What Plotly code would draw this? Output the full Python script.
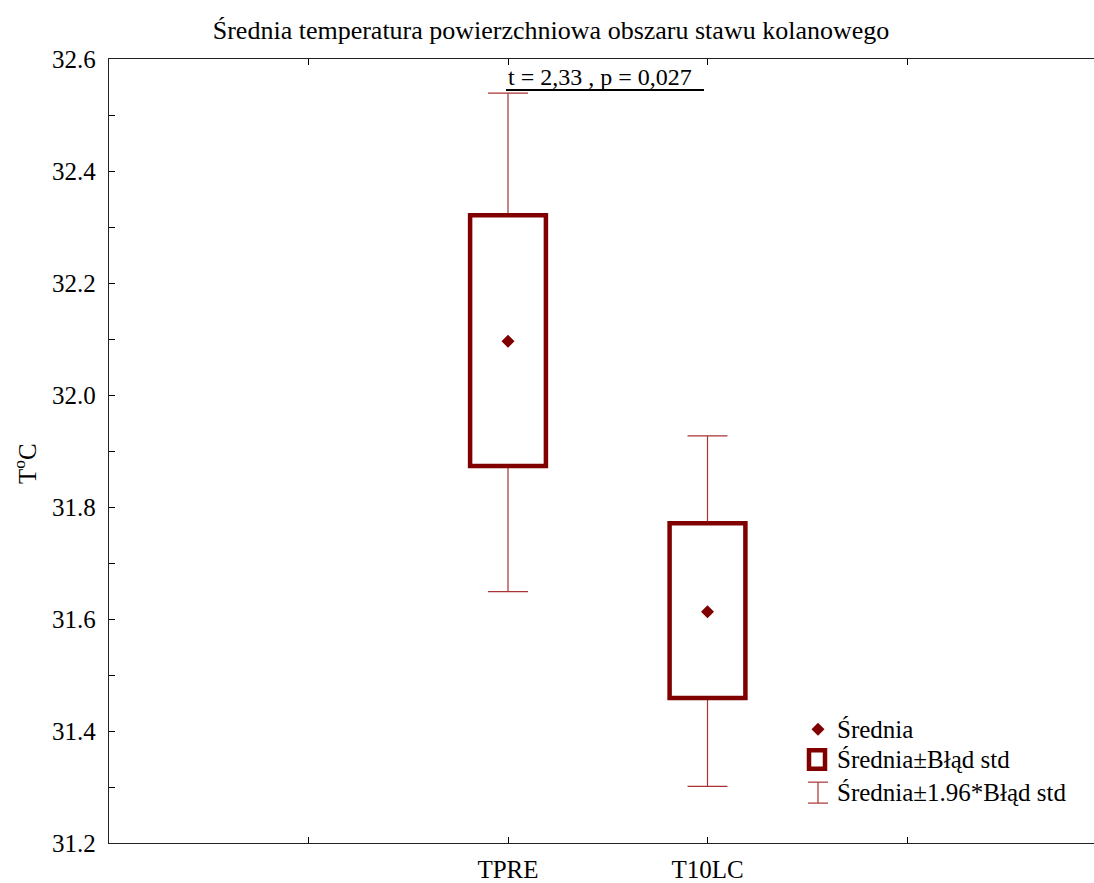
import plotly.graph_objects as go

# ---- data ----
categories = ["TPRE", "T10LC"]
cat_pos = [2, 3]
means = [32.096, 31.613]
se_low = [31.873, 31.459]      # mean - SE
se_high = [32.321, 31.771]     # mean + SE
ci_low = [31.649, 31.301]      # mean - 1.96*SE
ci_high = [32.539, 31.927]     # mean + 1.96*SE
y_major = [31.2, 31.4, 31.6, 31.8, 32.0, 32.2, 32.4, 32.6]
y_labels = ["31.2", "31.4", "31.6", "31.8", "32.0", "32.2", "32.4", "32.6"]
x_minor = [1, 4]

FONT = "Liberation Serif"
BOX_COLOR = "#800000"
WHISK_COLOR = "#a83232"
W, H = 1094, 883
L, R, T, B = 109, 0, 59, 38
BOX_HALF = 0.19
CAP_HALF = 0.10

fig = go.Figure()

# whiskers
wx, wy = [], []
for c, lo, hi, blo, bhi in zip(cat_pos, ci_low, ci_high, se_low, se_high):
    wx += [c, c, None, c, c, None, c - CAP_HALF, c + CAP_HALF, None, c - CAP_HALF, c + CAP_HALF, None]
    wy += [bhi, hi, None, blo, lo, None, hi, hi, None, lo, lo, None]
fig.add_trace(go.Scatter(x=wx, y=wy, mode="lines", line=dict(color=WHISK_COLOR, width=1.2),
                         hoverinfo="skip", showlegend=False))

# boxes
for c, blo, bhi in zip(cat_pos, se_low, se_high):
    fig.add_shape(type="rect", xref="x", yref="y", x0=c - BOX_HALF, x1=c + BOX_HALF, y0=blo, y1=bhi,
                  line=dict(color=BOX_COLOR, width=4.5), fillcolor="rgba(0,0,0,0)")

# means
fig.add_trace(go.Scatter(x=cat_pos, y=means, mode="markers",
                         marker=dict(symbol="diamond", size=10, color=BOX_COLOR),
                         showlegend=False))

# helpers for pixel -> paper
pw = W - L - R
ph = H - T - B
def px(x):
    return (x - L) / pw
def py(y):
    return (H - B - y) / ph

# t-test annotation
fig.add_annotation(x=2.46, y=32.568, xref="x", yref="y", text="t = 2,33 , p = 0,027",
                   showarrow=False, font=dict(family=FONT, size=24, color="black"),
                   xanchor="center", yanchor="middle")
fig.add_shape(type="line", xref="paper", yref="paper", x0=px(506), x1=px(704), y0=py(90), y1=py(90),
              line=dict(color="black", width=2))

# y axis title
fig.add_annotation(x=px(25), y=py(465), xref="paper", yref="paper", text="T<sup>o</sup>C",
                   textangle=-90, showarrow=False, font=dict(family=FONT, size=25, color="black"),
                   xanchor="center", yanchor="middle")

# manual legend
legend_font = dict(family=FONT, size=25, color="black")
cx, cy, d = 818, 731, 6.5
diamond = (f"M {px(cx)} {py(cy - d)} L {px(cx + d)} {py(cy)} L {px(cx)} {py(cy + d)} "
           f"L {px(cx - d)} {py(cy)} Z")
fig.add_shape(type="path", xref="paper", yref="paper", path=diamond,
              fillcolor=BOX_COLOR, line=dict(color=BOX_COLOR, width=0))
fig.add_shape(type="rect", xref="paper", yref="paper", x0=px(809), x1=px(825), y0=py(752), y1=py(770.5),
              line=dict(color=BOX_COLOR, width=4.5), fillcolor="white")
fig.add_shape(type="line", xref="paper", yref="paper", x0=px(818), x1=px(818), y0=py(784), y1=py(805),
              line=dict(color=WHISK_COLOR, width=1.2))
fig.add_shape(type="line", xref="paper", yref="paper", x0=px(808), x1=px(828), y0=py(784), y1=py(784),
              line=dict(color=WHISK_COLOR, width=1.2))
fig.add_shape(type="line", xref="paper", yref="paper", x0=px(808), x1=px(828), y0=py(805), y1=py(805),
              line=dict(color=WHISK_COLOR, width=1.2))
for txt, yy in [("Średnia", 731), ("Średnia±Błąd std", 761), ("Średnia±1.96*Błąd std", 794)]:
    fig.add_annotation(x=px(835), y=py(yy), xref="paper", yref="paper", text=txt, showarrow=False,
                       xanchor="left", yanchor="middle", font=legend_font)

fig.update_layout(
    width=W, height=H,
    margin=dict(l=L, r=R, t=T, b=B),
    paper_bgcolor="white", plot_bgcolor="white",
    title=dict(text="Średnia temperatura powierzchniowa obszaru stawu kolanowego",
               x=551 / W, xanchor="center", y=1 - 30 / H, yanchor="middle",
               font=dict(family=FONT, size=26, color="black")),
    xaxis=dict(range=[0, pw / 199.5], tickmode="array", tickvals=cat_pos, ticktext=categories,
               ticks="inside", ticklen=6, tickcolor="black", showline=True, linecolor="#222",
               linewidth=1.3, mirror="ticks", showgrid=False, zeroline=False,
               minor=dict(tickmode="array", tickvals=x_minor, ticks="inside", ticklen=6,
                          tickcolor="black", showgrid=False),
               tickfont=dict(family=FONT, size=25, color="black"), ticklabelstandoff=4),
    yaxis=dict(range=[31.2, 32.6], tickmode="array", tickvals=y_major, ticktext=y_labels,
               ticks="inside", ticklen=6, tickcolor="black", showline=True, linecolor="#222",
               linewidth=1.3, mirror=False, showgrid=False, zeroline=False,
               minor=dict(dtick=0.1, tick0=31.2, ticks="inside", ticklen=6,
                          tickcolor="black", showgrid=False),
               tickfont=dict(family=FONT, size=25, color="black"), ticklabelstandoff=7),
    showlegend=False,
)

fig.write_html("out.html")
